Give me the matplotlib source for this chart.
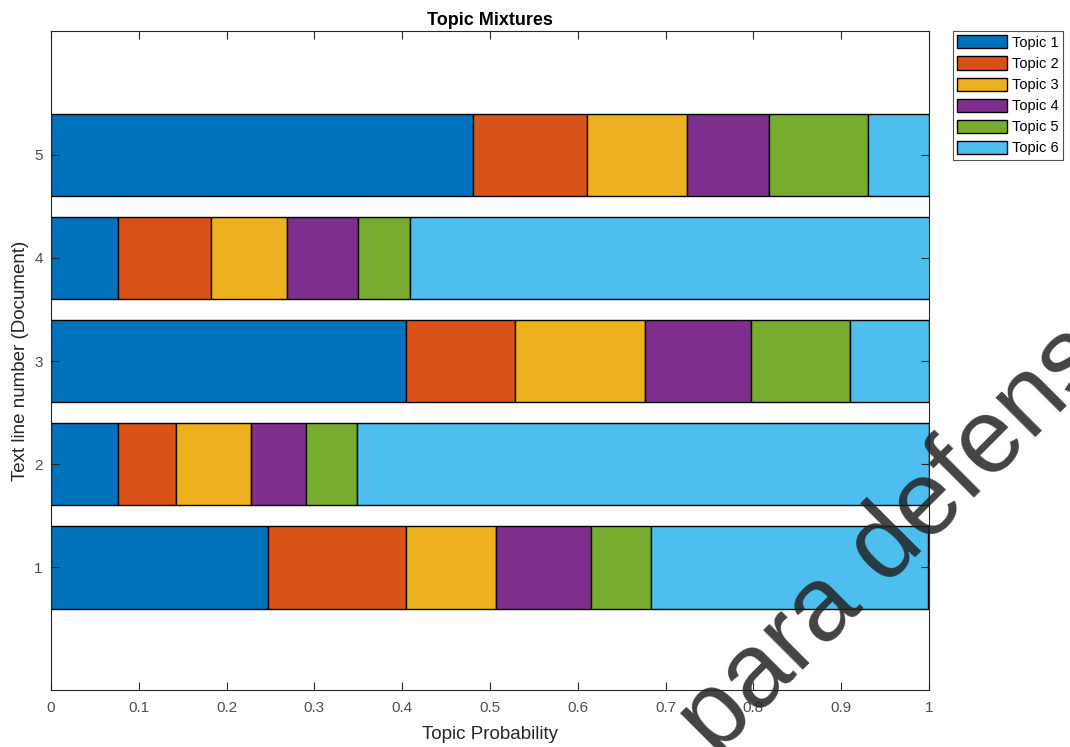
import numpy as np
import matplotlib.pyplot as plt

plt.rcParams['font.family'] = ['Liberation Sans', 'DejaVu Sans']

# Topic probabilities per document (rows = documents 1..5, cols = topics 1..6)
documents = [1, 2, 3, 4, 5]
topic_names = ['Topic 1', 'Topic 2', 'Topic 3', 'Topic 4', 'Topic 5', 'Topic 6']
topic1 = [0.247, 0.076, 0.404, 0.076, 0.481]
topic2 = [0.157, 0.066, 0.124, 0.106, 0.130]
topic3 = [0.103, 0.086, 0.149, 0.087, 0.113]
topic4 = [0.108, 0.063, 0.120, 0.081, 0.094]
topic5 = [0.068, 0.057, 0.113, 0.059, 0.113]
topic6 = [0.316, 0.652, 0.090, 0.592, 0.069]

colors = ['#0072BD', '#D95319', '#EDB120', '#7E2F8E', '#77AC30', '#4DBEEE']

fig = plt.figure(figsize=(10.7, 7.47), dpi=100)
ax = fig.add_axes([51/1070, 57/747, 878/1070, 659/747])

left = np.zeros(len(documents))
for name, vals, c in zip(topic_names, [topic1, topic2, topic3, topic4, topic5, topic6], colors):
    ax.barh(documents, vals, left=left, height=0.8, color=c, edgecolor='black',
            linewidth=1.0, label=name)
    left += np.array(vals)

ax.set_xlim(0, 1)
ax.set_ylim(-0.19, 6.2)
ax.set_xticks(np.arange(0, 1.01, 0.1))
ax.set_xticklabels(['0', '0.1', '0.2', '0.3', '0.4', '0.5', '0.6', '0.7', '0.8', '0.9', '1'])
ax.set_yticks(documents)
ax.tick_params(direction='in', top=True, right=True, length=6, width=0.8, pad=6,
               colors='#262626', labelsize=11, labelcolor='#4d4d4d')
ax.tick_params(axis='x', pad=8)
for s in ax.spines.values():
    s.set_color('#262626')
    s.set_linewidth(0.8)

ax.set_title('Topic Mixtures', fontsize=13, fontweight='bold', pad=4)
ax.set_xlabel('Topic Probability', fontsize=13.5, color='#262626', labelpad=8)
ax.set_ylabel('Text line number (Document)', fontsize=13.5, color='#262626', labelpad=4)

leg = ax.legend(loc='upper left', bbox_to_anchor=(953/1070, 716/747),
                bbox_transform=fig.transFigure, fontsize=10.5, frameon=True,
                fancybox=False, edgecolor='#262626', handlelength=3.4,
                handleheight=1.0, handletextpad=0.35, labelspacing=0.45,
                borderpad=0.3, borderaxespad=0)
leg.get_frame().set_linewidth(0.8)

# watermark over the figure
fig.text(715/1070, -10/747, 'para defensa', fontsize=76, color='#222222', alpha=0.85,
         rotation=45, rotation_mode='anchor', ha='left', va='baseline', zorder=10)

fig.savefig('out.png', dpi=100)
